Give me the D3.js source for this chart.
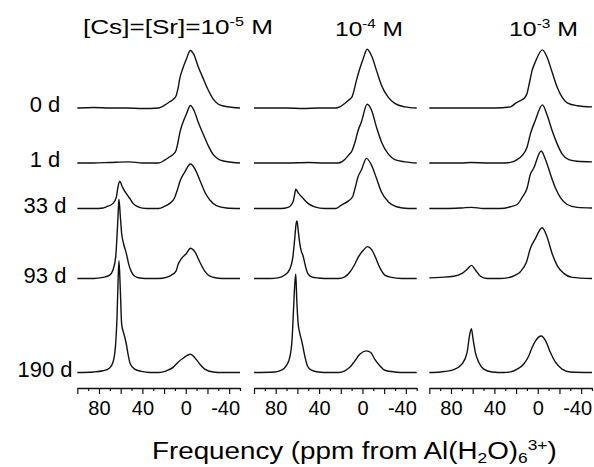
<!DOCTYPE html>
<html>
<head>
<meta charset="utf-8">
<script src="https://cdn.jsdelivr.net/npm/d3@7"></script>
<style>
  body { margin: 0; background: #fff; }
  text { font-family: "Liberation Sans", Arial, sans-serif; fill: #000; }
</style>
</head>
<body>
<div id="chart"></div>
<script>
// ---- data: [ppm, intensity] (intensity: 100 = height of the 0 d peak)
const ages = ["0 d", "1 d", "33 d", "93 d", "190 d"]
const concBase = ["[Cs]=[Sr]=10", "10", "10"]
const concExp = ["-5", "-4", "-3"]
const ppmTicks = [100, 90, 80, 70, 60, 50, 40, 30, 20, 10, 0, -10, -20, -30, -40, -50]
const tickLabels = [80, 40, 0, -40]

// 10^-5 M
const spec5 = [
  [[100,0],[85,1],[70,0],[55,0],[40,-1],[25,0],[19.4,5],[14.8,11],[11.7,15],[9,21],[7.2,34],[5.5,52],[3,68],[-0.6,86],[-4.3,101],[-7.4,94],[-11.4,73],[-16,52],[-20.6,32],[-25.2,16],[-29.8,7],[-36,3],[-43.7,1],[-50,0]],
  [[100,0],[85,0],[70,1],[52,2],[40,0],[25,0],[19.4,5],[14.8,11],[11.7,15],[9,22],[7.2,36],[5.5,53],[3,69],[-0.6,86],[-4.3,101],[-7.4,93],[-11.4,72],[-16,51],[-20.6,31],[-25.2,15],[-29.8,7],[-36,3],[-43.7,1],[-50,0]],
  [[100,0],[85,0],[76,1],[73.2,3],[67.1,9],[64,20],[62.5,38],[60.9,48],[58.5,38],[54.8,26],[51.7,18],[48.6,9],[44,3],[36.3,0],[25,0],[19.4,4],[14.8,9],[10.5,18],[8,31],[5.5,47],[0.9,64],[-4.3,78],[-8.3,70],[-12.9,50],[-17.5,29],[-22.2,15],[-28.3,5],[-37.5,1],[-50,0]],
  [[100,0],[85,0],[76.3,2],[70.2,6],[67.1,15],[64.6,38],[63.1,85],[62.2,120],[61.6,139],[60.3,108],[59.1,79],[57.3,61],[54.8,44],[52.3,23],[50.2,12],[47.1,4],[42.5,1],[33.2,0],[25,0],[17.9,2],[13.2,6],[9,13],[7,25],[4,35],[-0.6,44],[-4.3,53],[-8.3,47],[-12.9,29],[-17.5,13],[-22.2,4],[-28.3,1],[-37.5,0],[-50,0]],
  [[100,0],[85,1],[76.3,3],[70.2,8],[67.1,18],[64.9,44],[63.4,96],[62.5,155],[61.6,196],[60.3,143],[59.1,85],[56.9,67],[54.8,50],[53.2,32],[51.1,15],[47.1,6],[40.9,2],[33.2,0],[25,0],[17.9,3],[11.7,9],[7.1,18],[2.5,25],[-4.3,32],[-8.3,26],[-12.9,15],[-17.5,6],[-25.2,1],[-34,0],[-50,0]]
]

// 10^-4 M
const spec4 = [
  [[100,0],[85,0],[70,0],[55,-1],[40,0],[25,0],[20.9,2],[16.3,8],[13.2,13],[9.5,20],[7.5,33],[5.5,49],[2.5,69],[-0.6,86],[-4.3,103],[-8.3,92],[-12.9,66],[-17.5,40],[-23.7,19],[-29.8,8],[-39.1,2],[-50,0]],
  [[100,0],[85,0],[70,0],[50,1],[35,0],[22,0],[16.3,6],[13.2,13],[9.5,22],[7.1,35],[4,57],[1,72],[-4.3,103],[-8.3,93],[-12.9,63],[-17.5,37],[-23.7,16],[-29.8,6],[-39.1,2],[-50,0]],
  [[100,0],[85,0],[75,0],[68.6,2],[64,12],[62.4,26],[61.5,34],[59.4,28],[54.8,18],[50.2,9],[44,3],[34.8,0],[25,0],[19.4,6],[13.2,13],[9,21],[6.5,38],[4,56],[0.9,68],[-3.7,88],[-8.3,76],[-12.9,53],[-17.5,29],[-23.7,12],[-31.4,3],[-42.1,0],[-50,0]],
  [[100,0],[85,0],[78,1],[71.7,6],[67.1,16],[64,40],[62.5,69],[61,98],[60.3,101],[59.4,87],[57.9,63],[56.4,48],[54.8,40],[52.6,22],[50.2,8],[47.1,3],[40.9,1],[30,0],[22,0],[16.3,3],[11.7,11],[7.1,25],[4,37],[-0.6,49],[-4.6,56],[-8.3,51],[-11.4,40],[-16,19],[-20.6,6],[-26.8,2],[-36,0],[-50,0]],
  [[100,0],[80.9,1],[74.8,4],[70.2,12],[67.1,26],[64.9,58],[63.4,117],[62.5,152],[61.5,173],[60.6,129],[59.4,88],[57.9,70],[55.7,53],[53.2,29],[50.8,12],[47.1,4],[40.9,1],[30,0],[22,0],[16.3,3],[11.7,9],[7.1,20],[2.5,32],[-3.7,38],[-7.7,35],[-11.4,23],[-16,12],[-20.6,4],[-29.8,1],[-40,0],[-50,0]]
]

// 10^-3 M
const spec3 = [
  [[100,0],[85,0],[70,0],[55,0],[40,0],[25.2,2],[20.6,8],[16,13],[12,18],[9.8,26],[7.8,43],[5.2,66],[2.2,81],[-4.3,102],[-8.6,89],[-13.2,63],[-17.8,37],[-22.4,19],[-27.1,9],[-36.3,4],[-50,2]],
  [[100,0],[85,0],[70,0],[62,1],[45,0],[30,0],[25.2,1],[19,6],[14.5,13],[9.8,28],[6.8,51],[2.2,75],[-4.3,102],[-8.6,84],[-13.2,57],[-17.8,34],[-22.4,16],[-28.6,6],[-36.3,3],[-50,2]],
  [[100,0],[85,0],[70,1],[61,2],[50,0],[35,0],[25.2,3],[19,7],[14.5,19],[9.8,36],[6.8,60],[3.7,71],[-3.1,101],[-7.1,86],[-11.7,60],[-16.3,36],[-20.9,19],[-27.1,7],[-36.3,2],[-50,1]],
  [[100,1],[89.8,2],[77.5,4],[69.8,9],[65.2,16],[61.2,23],[57.5,15],[52.9,4],[46.8,0],[35,0],[28.3,1],[20.6,6],[16,12],[10.4,29],[6.8,53],[2.2,70],[-4,89],[-8.6,73],[-13.2,44],[-17.8,23],[-24,9],[-31.7,2],[-50,0]],
  [[100,0],[89.8,1],[77.5,5],[69.8,15],[65.2,35],[63,64],[61.2,77],[59.6,58],[57.5,35],[54.4,18],[49.8,6],[42.1,1],[31.4,0],[25.2,1],[19,6],[12.9,15],[8.3,29],[5.2,44],[2.2,55],[-3.1,64],[-7.1,56],[-11.7,35],[-16.3,18],[-22.4,6],[-30.1,1],[-50,0]]
]

const panels = [spec5, spec4, spec3]

// ---- layout
const PANEL_X = [77.3, 254, 429.3]
const PANEL_W = 162.7
const ROW_BASE = [108, 163, 208.5, 278.5, 372.5]
const AXIS_Y = 388
const TITLE_POS = [{ x: 83, y: 33.5, w: 190 }, { x: 335, y: 36, w: 68 }, { x: 509, y: 36, w: 69 }]

const svg = d3.select("#chart").append("svg")
  .attr("width", 594)
  .attr("height", 467)

// vertical scale: intensity -> pixels above the baseline
const amp = d3.scaleLinear().domain([0, 100]).range([0, 57])

panels.forEach((spectra, i) => {
  const x = d3.scaleLinear()
    .domain([100, -50])
    .range([PANEL_X[i], PANEL_X[i] + PANEL_W])

  const g = svg.append("g")

  spectra.forEach((trace, j) => {
    const line = d3.line()
      .x(d => x(d[0]))
      .y(d => ROW_BASE[j] - amp(d[1]))
      .curve(d3.curveMonotoneX)
    g.append("path")
      .attr("d", line(trace))
      .attr("fill", "none")
      .attr("stroke", "#111")
      .attr("stroke-width", 1.4)
      .attr("stroke-linejoin", "round")
  })

  // axis (ticks pointing down, labels only at 80/40/0/-40)
  const axis = d3.axisBottom(x)
    .tickValues(ppmTicks)
    .tickSizeInner(6)
    .tickSizeOuter(0)
    .tickPadding(7)
    .tickFormat(d => tickLabels.includes(d) ? String(d) : "")
  const ag = g.append("g")
    .attr("transform", `translate(0, ${AXIS_Y})`)
    .call(axis)
  ag.select(".domain").attr("stroke", "#111").attr("stroke-width", 1.3)
  ag.selectAll(".tick line")
    .attr("stroke", "#111")
    .attr("stroke-width", 1.2)
    .attr("y2", d => d % 20 === 0 ? 6 : 3)
  ag.selectAll(".tick text")
    .attr("font-family", "Liberation Sans, Arial, sans-serif")
    .attr("font-size", 20)
    .attr("fill", "#000")
    .attr("dx", d => d < 0 ? -4 : 0)

  // panel title, stretched to the width it has in the figure
  const t = TITLE_POS[i]
  const title = svg.append("text")
    .attr("font-size", 21)
  title.append("tspan").text(concBase[i])
  title.append("tspan").attr("font-size", 13).attr("dy", -8).text(concExp[i])
  title.append("tspan").attr("dy", 8).text(" M")
  const bw = title.node().getBBox().width
  title.attr("transform", `translate(${t.x}, ${t.y}) scale(${t.w / bw}, 1)`)
})

// row labels
svg.selectAll(".age")
  .data(ages)
  .enter().append("text")
  .attr("class", "age")
  .attr("x", 45)
  .attr("y", (d, j) => ROW_BASE[j] + 4)
  .attr("text-anchor", "middle")
  .attr("font-size", 22)
  .text(d => d)

// x axis title
const xt = svg.append("text").attr("font-size", 24)
xt.append("tspan").text("Frequency (ppm from Al(H")
xt.append("tspan").attr("font-size", 15).attr("dy", 4).text("2")
xt.append("tspan").attr("dy", -4).text("O)")
xt.append("tspan").attr("font-size", 15).attr("dy", 4).text("6")
xt.append("tspan").attr("font-size", 15).attr("dy", -13).text("3+")
xt.append("tspan").attr("dy", 9).text(")")
const xw = xt.node().getBBox().width
xt.attr("transform", `translate(152, 459) scale(${405 / xw}, 1)`)
</script>
</body>
</html>
